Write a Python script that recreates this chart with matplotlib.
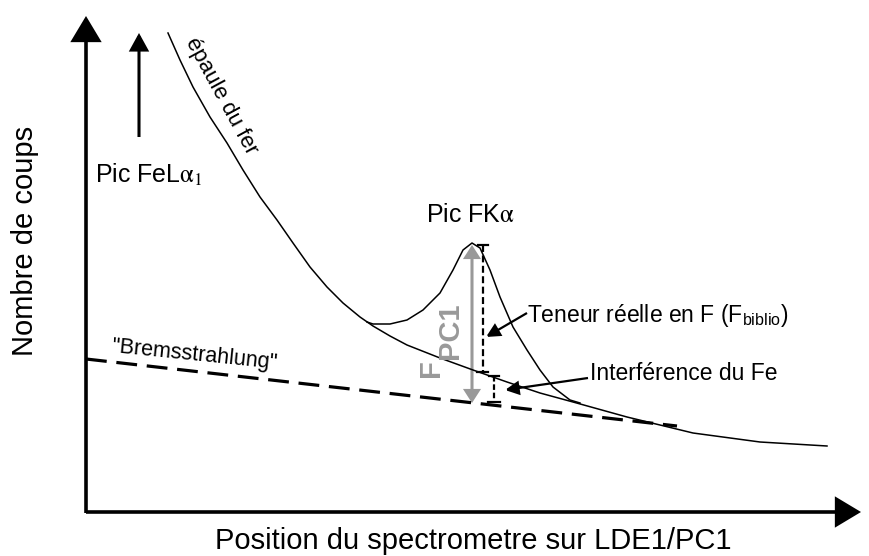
import matplotlib
matplotlib.use('Agg')
import matplotlib.pyplot as plt
from matplotlib.patches import FancyArrowPatch

plt.rcParams['font.family'] = ['Liberation Sans', 'DejaVu Sans']
plt.rcParams['mathtext.fontset'] = 'custom'
plt.rcParams['mathtext.rm'] = 'Liberation Sans'
plt.rcParams['mathtext.bf'] = 'Liberation Sans:bold'
plt.rcParams['lines.scale_dashes'] = False

# schematic, in figure pixels (y counted from the top)
fond_x = [168, 180, 193, 210, 227, 243, 260, 277, 293, 310, 327, 343, 360, 373,
          390, 407, 440, 473, 507, 540, 573, 627, 693, 760, 827]
fond_y = [33, 60, 87, 117, 143, 170, 197, 220, 243, 267, 287, 303, 317, 326,
          336, 345, 358, 370, 382, 393, 402, 417, 433, 442, 446]

pic_x = [367, 373, 390, 407, 423, 440, 453, 463, 472, 480, 490, 500, 513, 527,
         540, 553, 570, 580]
pic_y = [322, 324, 324, 320, 310, 293, 270, 250, 243, 248, 270, 297, 327, 350,
         370, 387, 400, 403]

brems_x = [86, 677]
brems_y = [359, 426]

# heights marked on the peak
fpc1_x, fpc1_haut, fpc1_bas = 472, 245, 403
biblio_x, biblio_haut, biblio_bas = 483, 245, 372
interf_x, interf_haut, interf_bas = 494, 376, 402

fig = plt.figure(figsize=(8.69, 5.56), dpi=100)
ax = fig.add_axes([0, 0, 1, 1])
ax.set_xlim(0, 869)
ax.set_ylim(556, 0)
ax.axis('off')


def fleche(p0, p1, lw, hl, hw, color='k', style='-|>'):
    a = FancyArrowPatch(p0, p1, arrowstyle=f'{style},head_length={hl},head_width={hw}',
                        mutation_scale=1, lw=lw, color=color, shrinkA=0, shrinkB=0,
                        joinstyle='miter', capstyle='butt')
    ax.add_patch(a)


# axes of the sketch
fleche((86, 513), (86, 16), 2.6, 15, 9)
fleche((86, 512), (861, 512), 2.6, 15, 9)

# FeLa1 peak off the chart
fleche((139, 137), (139, 33), 2.2, 10, 5.5)

# curves
ax.plot(fond_x, fond_y, color='k', lw=1.1)
ax.plot(pic_x, pic_y, color='k', lw=1.1)
ax.plot(brems_x, brems_y, color='k', lw=2.3, dashes=(15, 7))

# grey total height
fleche((fpc1_x, fpc1_bas), (fpc1_x, fpc1_haut), 2.2, 7, 4.5, color='#999999', style='<|-|>')

# dashed heights with end ticks
ax.plot([biblio_x, biblio_x], [biblio_haut, biblio_bas], color='k', lw=1.6, dashes=(5, 2.5))
ax.plot([biblio_x - 5, biblio_x + 5], [biblio_haut, biblio_haut], color='k', lw=1.6)
ax.plot([biblio_x - 6, biblio_x + 5], [biblio_bas, biblio_bas], color='k', lw=1.6)
ax.plot([interf_x, interf_x], [interf_haut, interf_bas], color='k', lw=1.6, dashes=(4, 2))
ax.plot([interf_x - 5, interf_x + 5], [interf_haut, interf_haut], color='k', lw=1.6)
ax.plot([interf_x - 6, interf_x + 6], [interf_bas, interf_bas], color='k', lw=1.6)

# pointers
fleche((527, 313), (486, 337), 1.6, 8, 4)
fleche((588, 378), (505, 390), 1.6, 8, 4)

# texts
ax.text(25, 241, 'Nombre de coups', rotation=90, fontsize=21, ha='center', va='center')
ax.text(473, 541, 'Position du spectrometre sur LDE1/PC1', fontsize=21,
        ha='center', va='center')
ax.text(95, 182, r'Pic FeL$\mathrm{\alpha_1}$', fontsize=18, ha='left', va='baseline',
        math_fontfamily='stix')
ax.text(470, 222, r'Pic FK$\mathrm{\alpha}$', fontsize=18, ha='center', va='baseline',
        math_fontfamily='stix')
ax.text(221, 96, 'épaule du fer', rotation=-61.5, fontsize=16, ha='center', va='center',
        rotation_mode='anchor')
ax.text(195, 355, '"Bremsstrahlung"', rotation=-5.8, fontsize=15.5, ha='center',
        va='center', rotation_mode='anchor')
ax.text(527, 322, r'Teneur réelle en F (F$_{\mathrm{biblio}}$)', fontsize=16.5, ha='left',
        va='baseline')
ax.text(590, 380, 'Interférence du Fe', fontsize=16.5, ha='left', va='baseline')
ax.text(431, 368, 'F', rotation=90, fontsize=21, fontweight='bold', color='#999999',
        ha='center', va='center')
ax.text(450, 331, 'PC1', rotation=90, fontsize=21, fontweight='bold', color='#999999',
        ha='center', va='center')

fig.savefig('out.png', dpi=100)
